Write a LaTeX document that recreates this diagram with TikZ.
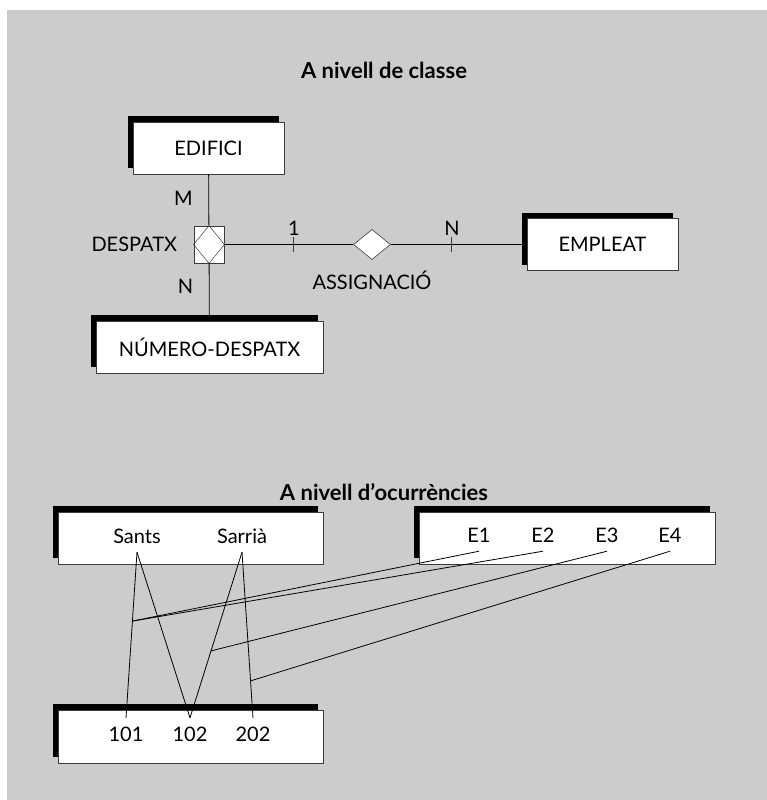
\documentclass[tikz,border=0pt]{standalone}
\usepackage{fontspec}
\setmainfont{Lato}
\usepackage{tikz}
\usetikzlibrary{calc,positioning,shapes.geometric,shadows}
\definecolor{fonsgris}{RGB}{204,204,204}
\definecolor{vora}{RGB}{60,60,60}

\tikzset{
  entitat/.style={draw=vora, fill=white, line width=0.9pt, minimum height=52pt,
    general shadow={fill=black, shadow xshift=-5pt, shadow yshift=6pt}},
  valor/.style={inner sep=0pt, minimum height=32pt},
  enllac/.style={black, line width=0.8pt},
  marca/.style={vora, line width=1pt},
  titol/.style={font=\bfseries\fontsize{22}{26}\selectfont}
}

\begin{document}
\begin{tikzpicture}[x=1pt, y=-1pt, font=\fontsize{20}{24}\selectfont]
\useasboundingbox (0,0) rectangle (767,800);
\fill[fonsgris] (7,10) rectangle (767,800);

% nivell de classe
\node[titol] (titol1) at (384,70) {A nivell de classe};
\node[entitat, minimum width=151pt] (edifici) at (208.5,148) {EDIFICI};
\node[entitat, minimum width=227pt] (numero) at (209.5,347) {NÚMERO-DESPATX};
\node[entitat, minimum width=151pt] (empleat) at (602.5,244.5) {EMPLEAT};
\node[draw=vora, fill=white, line width=0.8pt, minimum width=30pt, minimum height=37pt, inner sep=0pt] (despatx) at (209,244.5) {};
\draw[vora, line width=0.5pt] (despatx.north) -- (despatx.east) -- (despatx.south) -- (despatx.west) -- cycle;
\node[diamond, draw=vora, fill=white, line width=0.6pt, minimum width=37pt, minimum height=30pt, inner sep=0pt] (assign) at (372,244.5) {};

\draw[enllac] (edifici) -- (despatx);
\draw[enllac] (despatx) -- (numero);
\draw[enllac] (despatx.east) -- coordinate[pos=0.54] (c1) (assign.west);
\draw[enllac] (assign.east) -- coordinate[pos=0.45] (c2) (empleat.west);
\draw[marca] ([yshift=-7.5pt]c1) -- ([yshift=7.5pt]c1);
\draw[marca] ([yshift=-7.5pt]c2) -- ([yshift=7.5pt]c2);

\node[above=5pt of c1] (card1) {1};
\node[above=5pt of c2] (cardn) {N};
\node (cardm) at (183.5,198) {M};
\node (cardn2) at (185.5,286) {N};
\node[left=13pt of despatx] (nomdespatx) {DESPATX};
\node (nomassign) at (372,280) {ASSIGNACIÓ};

% nivell d'ocurrencies
\node[titol] (titol2) at (384,492) {A nivell d’ocurrències};
\node[entitat, minimum width=265pt] (barris) at (190.5,538) {};
\node[entitat, minimum width=296pt] (empleats) at (567,538) {};
\node[entitat, minimum width=265pt, minimum height=53pt] (despatxos) at (190.5,736.5) {};

\node[valor] (sants) at (137,536) {Sants};
\node[valor] (sarria) at (242,536) {Sarrià};
\node[valor] (e1) at (479,535) {E1};
\node[valor] (e2) at (543,535) {E2};
\node[valor] (e3) at (607,535) {E3};
\node[valor] (e4) at (670,535) {E4};
\node[valor] (d101) at (126,734) {101};
\node[valor] (d102) at (190,734) {102};
\node[valor] (d202) at (253,734) {202};

\draw[enllac] (sants.south) -- (d101.north);
\draw[enllac] (sants.south) -- (d102.north);
\draw[enllac] (sarria.south) -- (d102.north);
\draw[enllac] (sarria.south) -- (d202.north);

\draw[enllac] (e1.south) -- ($(sants.south)!0.416!(d101.north)$);
\draw[enllac] (e2.south) -- ($(sants.south)!0.416!(d101.north)$);
\draw[enllac] (e3.south) -- ($(sarria.south)!0.596!(d102.north)$);
\draw[enllac] (e4.south) -- ($(sarria.south)!0.777!(d202.north)$);
\end{tikzpicture}
\end{document}
